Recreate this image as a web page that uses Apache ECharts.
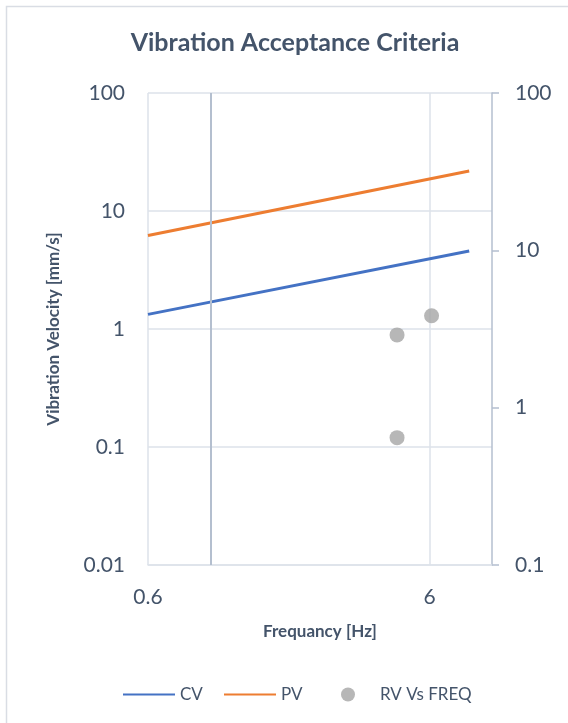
<!DOCTYPE html>
<html>
<head>
<meta charset="utf-8">
<script src="https://cdn.jsdelivr.net/npm/echarts@6/dist/echarts.min.js"></script>
<style>
  html, body { margin: 0; padding: 0; background: #ffffff; }
  #chart { width: 568px; height: 723px; }
</style>
</head>
<body>
<div id="chart"></div>
<script>
// Frequency range of the criteria lines [Hz]
const cvFreq = [0.6, 8.3];
const cvVelocity = [1.33, 4.58];      // CV limit [mm/s]
const pvFreq = [0.6, 8.3];
const pvVelocity = [6.2, 21.8];       // PV limit [mm/s]

// Measured readings (frequency, velocity) plotted on the secondary axis
const rvFreq = [4.6, 6.1, 4.6];
const rvVelocity = [2.9, 3.84, 0.645];

// Tick labels
const xTickValues = [0.6, 6];
const yAxisCrossAt = 1;

const textColor = '#44546a';
const gridColor = '#dde2ea';
const axisColor = '#b4bfcf';
const font = 'Lato';

const pair = (xs, ys) => xs.map((x, i) => [x, ys[i]]);
const fmt = v => String(+Number(v).toPrecision(3));

const legendBox = (left, width, textPad, item) => ({
  left: left, top: 686, padding: 0,
  itemWidth: width, itemHeight: 14,
  textStyle: { fontFamily: font, fontSize: 17, color: textColor, padding: [0, 0, 0, textPad] },
  data: [item]
});

const chart = echarts.init(document.getElementById('chart'), null, { renderer: 'canvas' });

chart.setOption({
  backgroundColor: '#ffffff',
  animation: false,
  textStyle: { fontFamily: font },
  title: {
    text: 'Vibration Acceptance Criteria',
    left: 290, top: 25,
    textAlign: 'center',
    textStyle: { fontFamily: font, fontSize: 25, fontWeight: 'bold', color: textColor }
  },
  graphic: [{
    type: 'rect',
    shape: { x: 6.5, y: 6.5, width: 700, height: 900 },
    style: { fill: 'none', stroke: '#d9dde4', lineWidth: 1.5 },
    silent: true, z: -1
  }],
  grid: { left: 148, right: 76, top: 93, bottom: 158, containLabel: false },
  legend: [
    legendBox(122, 52, 0, { name: 'CV', itemStyle: { opacity: 0 } }),
    legendBox(223, 52, 0, { name: 'PV', itemStyle: { opacity: 0 } }),
    legendBox(341, 14, 20, { name: 'RV Vs FREQ', icon: 'circle' })
  ],
  xAxis: {
    type: 'log', logBase: 10, min: 0.6, max: 10,
    name: 'Frequancy [Hz]', nameLocation: 'middle', nameGap: 58,
    nameTextStyle: { fontFamily: font, fontSize: 17, fontWeight: 'bold', color: textColor },
    axisLine: { show: true, lineStyle: { color: gridColor, width: 1.5 } },
    axisTick: { show: false, customValues: xTickValues },
    axisLabel: { customValues: xTickValues, formatter: fmt, margin: 22, fontSize: 21, color: textColor, fontFamily: font },
    splitLine: { show: true, lineStyle: { color: gridColor, width: 1.5 } }
  },
  yAxis: [{
    type: 'log', logBase: 10, min: 0.01, max: 100,
    name: 'Vibration Velocity [mm/s]', nameLocation: 'middle', nameGap: 86, nameRotate: 90,
    nameTextStyle: { fontFamily: font, fontSize: 17, fontWeight: 'bold', color: textColor },
    axisLine: { show: false },
    axisTick: { show: false },
    axisLabel: { formatter: fmt, margin: 23, fontSize: 21, color: textColor, fontFamily: font },
    splitLine: { show: true, lineStyle: { color: gridColor, width: 1.5 } }
  }, {
    type: 'log', logBase: 10, min: 0.1, max: 100, position: 'right',
    axisLine: { show: true, lineStyle: { color: axisColor, width: 1.5 } },
    axisTick: { show: true, inside: false, length: 7, lineStyle: { color: axisColor, width: 1.5 } },
    axisLabel: { formatter: fmt, margin: 23, fontSize: 21, color: textColor, fontFamily: font },
    splitLine: { show: false }
  }],
  series: [{
    name: 'CV', type: 'line', yAxisIndex: 0,
    data: pair(cvFreq, cvVelocity),
    symbol: 'none', showSymbol: false,
    lineStyle: { color: '#4472c4', width: 3 }, itemStyle: { color: '#4472c4' },
    markLine: {
      silent: true, symbol: ['none', 'none'], label: { show: false },
      lineStyle: { color: axisColor, width: 2, type: 'solid' },
      data: [{ xAxis: yAxisCrossAt }]
    },
    z: 3
  }, {
    name: 'PV', type: 'line', yAxisIndex: 0,
    data: pair(pvFreq, pvVelocity),
    symbol: 'none', showSymbol: false,
    lineStyle: { color: '#ed7d31', width: 3 }, itemStyle: { color: '#ed7d31' },
    z: 3
  }, {
    name: 'RV Vs FREQ', type: 'scatter', yAxisIndex: 1,
    data: pair(rvFreq, rvVelocity),
    symbol: 'circle', symbolSize: 15,
    itemStyle: { color: '#a5a5a5' },
    z: 4
  }]
});
</script>
</body>
</html>
